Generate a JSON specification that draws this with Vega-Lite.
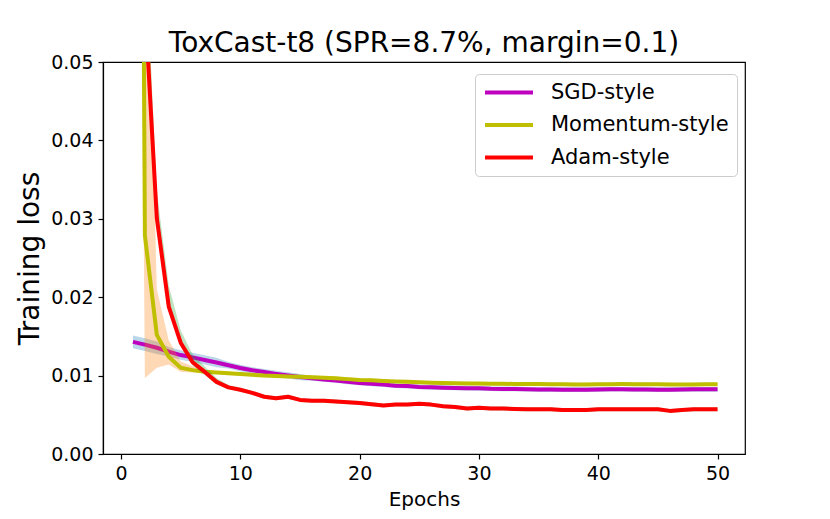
{
  "$schema": "https://vega.github.io/schema/vega-lite/v6.json",
  "width": 642,
  "height": 392,
  "autosize": {"type": "none"},
  "padding": {"left": 103, "top": 62, "right": 85, "bottom": 65},
  "title": {"text": "ToxCast-t8 (SPR=8.7%, margin=0.1)", "fontSize": 28, "fontWeight": "normal", "anchor": "middle", "frame": "group", "baseline": "bottom", "offset": 3, "dy": 36, "color": "black"},
  "config": {
    "font": "DejaVu Sans",
    "view": {"stroke": "black", "strokeWidth": 1.2},
    "axis": {"domainColor": "black", "tickColor": "black", "labelColor": "black", "titleColor": "black", "grid": false, "tickSize": 5, "tickWidth": 1.2, "domainWidth": 1.2, "labelFontSize": 19, "titleFontWeight": "normal", "labelPadding": 5}
  },
  "data": {"values": [
    {"epoch":1,"series":"SGD-style","loss":0.01430,"lo":0.01350,"hi":0.01510},
    {"epoch":2,"series":"SGD-style","loss":0.01395,"lo":0.01315,"hi":0.01475},
    {"epoch":3,"series":"SGD-style","loss":0.01355,"lo":0.01275,"hi":0.01435},
    {"epoch":4,"series":"SGD-style","loss":0.01305,"lo":0.01245,"hi":0.01365},
    {"epoch":5,"series":"SGD-style","loss":0.01262,"lo":0.01202,"hi":0.01322},
    {"epoch":6,"series":"SGD-style","loss":0.01232,"lo":0.01172,"hi":0.01292},
    {"epoch":7,"series":"SGD-style","loss":0.01200,"lo":0.01140,"hi":0.01260},
    {"epoch":8,"series":"SGD-style","loss":0.01168,"lo":0.01108,"hi":0.01228},
    {"epoch":9,"series":"SGD-style","loss":0.01132,"lo":0.01092,"hi":0.01172},
    {"epoch":10,"series":"SGD-style","loss":0.01097,"lo":0.01057,"hi":0.01137},
    {"epoch":11,"series":"SGD-style","loss":0.01068,"lo":0.01028,"hi":0.01108},
    {"epoch":12,"series":"SGD-style","loss":0.01045,"lo":0.01005,"hi":0.01085},
    {"epoch":13,"series":"SGD-style","loss":0.01022,"lo":0.00982,"hi":0.01062},
    {"epoch":14,"series":"SGD-style","loss":0.01002,"lo":0.00962,"hi":0.01042},
    {"epoch":15,"series":"SGD-style","loss":0.00982,"lo":0.00942,"hi":0.01022},
    {"epoch":16,"series":"SGD-style","loss":0.00965,"lo":0.00935,"hi":0.00995},
    {"epoch":17,"series":"SGD-style","loss":0.00950,"lo":0.00920,"hi":0.00980},
    {"epoch":18,"series":"SGD-style","loss":0.00938,"lo":0.00908,"hi":0.00968},
    {"epoch":19,"series":"SGD-style","loss":0.00920,"lo":0.00890,"hi":0.00950},
    {"epoch":20,"series":"SGD-style","loss":0.00906,"lo":0.00876,"hi":0.00936},
    {"epoch":21,"series":"SGD-style","loss":0.00895,"lo":0.00865,"hi":0.00925},
    {"epoch":22,"series":"SGD-style","loss":0.00885,"lo":0.00855,"hi":0.00915},
    {"epoch":23,"series":"SGD-style","loss":0.00872,"lo":0.00842,"hi":0.00902},
    {"epoch":24,"series":"SGD-style","loss":0.00866,"lo":0.00836,"hi":0.00896},
    {"epoch":25,"series":"SGD-style","loss":0.00855,"lo":0.00825,"hi":0.00885},
    {"epoch":26,"series":"SGD-style","loss":0.00850,"lo":0.00820,"hi":0.00880},
    {"epoch":27,"series":"SGD-style","loss":0.00846,"lo":0.00816,"hi":0.00876},
    {"epoch":28,"series":"SGD-style","loss":0.00842,"lo":0.00812,"hi":0.00872},
    {"epoch":29,"series":"SGD-style","loss":0.00840,"lo":0.00810,"hi":0.00870},
    {"epoch":30,"series":"SGD-style","loss":0.00838,"lo":0.00808,"hi":0.00868},
    {"epoch":31,"series":"SGD-style","loss":0.00832,"lo":0.00802,"hi":0.00862},
    {"epoch":32,"series":"SGD-style","loss":0.00830,"lo":0.00800,"hi":0.00860},
    {"epoch":33,"series":"SGD-style","loss":0.00830,"lo":0.00800,"hi":0.00860},
    {"epoch":34,"series":"SGD-style","loss":0.00826,"lo":0.00796,"hi":0.00856},
    {"epoch":35,"series":"SGD-style","loss":0.00822,"lo":0.00792,"hi":0.00852},
    {"epoch":36,"series":"SGD-style","loss":0.00822,"lo":0.00792,"hi":0.00852},
    {"epoch":37,"series":"SGD-style","loss":0.00820,"lo":0.00790,"hi":0.00850},
    {"epoch":38,"series":"SGD-style","loss":0.00820,"lo":0.00790,"hi":0.00850},
    {"epoch":39,"series":"SGD-style","loss":0.00820,"lo":0.00790,"hi":0.00850},
    {"epoch":40,"series":"SGD-style","loss":0.00824,"lo":0.00794,"hi":0.00854},
    {"epoch":41,"series":"SGD-style","loss":0.00826,"lo":0.00796,"hi":0.00856},
    {"epoch":42,"series":"SGD-style","loss":0.00826,"lo":0.00796,"hi":0.00856},
    {"epoch":43,"series":"SGD-style","loss":0.00824,"lo":0.00794,"hi":0.00854},
    {"epoch":44,"series":"SGD-style","loss":0.00824,"lo":0.00794,"hi":0.00854},
    {"epoch":45,"series":"SGD-style","loss":0.00820,"lo":0.00790,"hi":0.00850},
    {"epoch":46,"series":"SGD-style","loss":0.00820,"lo":0.00790,"hi":0.00850},
    {"epoch":47,"series":"SGD-style","loss":0.00824,"lo":0.00794,"hi":0.00854},
    {"epoch":48,"series":"SGD-style","loss":0.00825,"lo":0.00795,"hi":0.00855},
    {"epoch":49,"series":"SGD-style","loss":0.00825,"lo":0.00795,"hi":0.00855},
    {"epoch":50,"series":"SGD-style","loss":0.00825,"lo":0.00795,"hi":0.00855},
    {"epoch":1,"series":"Momentum-style","loss":0.3,"lo":0.2,"hi":0.4},
    {"epoch":2,"series":"Momentum-style","loss":0.0279,"lo":0.0097,"hi":0.08},
    {"epoch":3,"series":"Momentum-style","loss":0.0152,"lo":0.0110,"hi":0.021},
    {"epoch":4,"series":"Momentum-style","loss":0.0124,"lo":0.0114,"hi":0.0145},
    {"epoch":5,"series":"Momentum-style","loss":0.0110,"lo":0.0105,"hi":0.0118},
    {"epoch":6,"series":"Momentum-style","loss":0.0107,"lo":0.0104,"hi":0.0112},
    {"epoch":7,"series":"Momentum-style","loss":0.0105,"lo":0.0103,"hi":0.0107},
    {"epoch":8,"series":"Momentum-style","loss":0.0104,"lo":0.0102,"hi":0.0106},
    {"epoch":9,"series":"Momentum-style","loss":0.0103,"lo":0.0101,"hi":0.0105},
    {"epoch":10,"series":"Momentum-style","loss":0.0102,"lo":0.0100,"hi":0.0104},
    {"epoch":11,"series":"Momentum-style","loss":0.0101,"lo":0.0099,"hi":0.0103},
    {"epoch":12,"series":"Momentum-style","loss":0.0100,"lo":0.0098,"hi":0.0102},
    {"epoch":13,"series":"Momentum-style","loss":0.00995,"lo":0.00975,"hi":0.01015},
    {"epoch":14,"series":"Momentum-style","loss":0.0099,"lo":0.0097,"hi":0.0101},
    {"epoch":15,"series":"Momentum-style","loss":0.00985,"lo":0.00965,"hi":0.01005},
    {"epoch":16,"series":"Momentum-style","loss":0.0098,"lo":0.0096,"hi":0.0100},
    {"epoch":17,"series":"Momentum-style","loss":0.00972,"lo":0.00952,"hi":0.00992},
    {"epoch":18,"series":"Momentum-style","loss":0.00965,"lo":0.00945,"hi":0.00985},
    {"epoch":19,"series":"Momentum-style","loss":0.00955,"lo":0.00935,"hi":0.00975},
    {"epoch":20,"series":"Momentum-style","loss":0.00945,"lo":0.00925,"hi":0.00965},
    {"epoch":21,"series":"Momentum-style","loss":0.0094,"lo":0.0092,"hi":0.0096},
    {"epoch":22,"series":"Momentum-style","loss":0.00932,"lo":0.00912,"hi":0.00952},
    {"epoch":23,"series":"Momentum-style","loss":0.00925,"lo":0.00905,"hi":0.00945},
    {"epoch":24,"series":"Momentum-style","loss":0.0092,"lo":0.0090,"hi":0.0094},
    {"epoch":25,"series":"Momentum-style","loss":0.00915,"lo":0.00895,"hi":0.00935},
    {"epoch":26,"series":"Momentum-style","loss":0.0091,"lo":0.0089,"hi":0.0093},
    {"epoch":27,"series":"Momentum-style","loss":0.00905,"lo":0.00885,"hi":0.00925},
    {"epoch":28,"series":"Momentum-style","loss":0.00902,"lo":0.00882,"hi":0.00922},
    {"epoch":29,"series":"Momentum-style","loss":0.0090,"lo":0.0088,"hi":0.0092},
    {"epoch":30,"series":"Momentum-style","loss":0.00898,"lo":0.00878,"hi":0.00918},
    {"epoch":31,"series":"Momentum-style","loss":0.00896,"lo":0.00876,"hi":0.00916},
    {"epoch":32,"series":"Momentum-style","loss":0.00895,"lo":0.00875,"hi":0.00915},
    {"epoch":33,"series":"Momentum-style","loss":0.00894,"lo":0.00874,"hi":0.00914},
    {"epoch":34,"series":"Momentum-style","loss":0.00893,"lo":0.00873,"hi":0.00913},
    {"epoch":35,"series":"Momentum-style","loss":0.00892,"lo":0.00872,"hi":0.00912},
    {"epoch":36,"series":"Momentum-style","loss":0.0089,"lo":0.0087,"hi":0.0091},
    {"epoch":37,"series":"Momentum-style","loss":0.0089,"lo":0.0087,"hi":0.0091},
    {"epoch":38,"series":"Momentum-style","loss":0.00888,"lo":0.00868,"hi":0.00908},
    {"epoch":39,"series":"Momentum-style","loss":0.00888,"lo":0.00868,"hi":0.00908},
    {"epoch":40,"series":"Momentum-style","loss":0.0089,"lo":0.0087,"hi":0.0091},
    {"epoch":41,"series":"Momentum-style","loss":0.0089,"lo":0.0087,"hi":0.0091},
    {"epoch":42,"series":"Momentum-style","loss":0.00892,"lo":0.00872,"hi":0.00912},
    {"epoch":43,"series":"Momentum-style","loss":0.00891,"lo":0.00871,"hi":0.00911},
    {"epoch":44,"series":"Momentum-style","loss":0.0089,"lo":0.0087,"hi":0.0091},
    {"epoch":45,"series":"Momentum-style","loss":0.0089,"lo":0.0087,"hi":0.0091},
    {"epoch":46,"series":"Momentum-style","loss":0.00888,"lo":0.00868,"hi":0.00908},
    {"epoch":47,"series":"Momentum-style","loss":0.00887,"lo":0.00867,"hi":0.00907},
    {"epoch":48,"series":"Momentum-style","loss":0.00888,"lo":0.00868,"hi":0.00908},
    {"epoch":49,"series":"Momentum-style","loss":0.0089,"lo":0.0087,"hi":0.0091},
    {"epoch":50,"series":"Momentum-style","loss":0.0089,"lo":0.0087,"hi":0.0091},
    {"epoch":1,"series":"Adam-style","loss":0.5,"lo":0.45,"hi":0.55},
    {"epoch":2,"series":"Adam-style","loss":0.0575,"lo":0.054,"hi":0.066},
    {"epoch":3,"series":"Adam-style","loss":0.0301,"lo":0.0290,"hi":0.0335},
    {"epoch":4,"series":"Adam-style","loss":0.0188,"lo":0.0182,"hi":0.0215},
    {"epoch":5,"series":"Adam-style","loss":0.0142,"lo":0.0137,"hi":0.0158},
    {"epoch":6,"series":"Adam-style","loss":0.0117,"lo":0.0113,"hi":0.0127},
    {"epoch":7,"series":"Adam-style","loss":0.0105,"lo":0.0101,"hi":0.0112},
    {"epoch":8,"series":"Adam-style","loss":0.0092,"lo":0.00890,"hi":0.0097},
    {"epoch":9,"series":"Adam-style","loss":0.0085,"lo":0.00825,"hi":0.0088},
    {"epoch":10,"series":"Adam-style","loss":0.0082,"lo":0.00795,"hi":0.00845},
    {"epoch":11,"series":"Adam-style","loss":0.0078,"lo":0.00755,"hi":0.00805},
    {"epoch":12,"series":"Adam-style","loss":0.0073,"lo":0.00705,"hi":0.00755},
    {"epoch":13,"series":"Adam-style","loss":0.0071,"lo":0.00685,"hi":0.00735},
    {"epoch":14,"series":"Adam-style","loss":0.0073,"lo":0.00705,"hi":0.00755},
    {"epoch":15,"series":"Adam-style","loss":0.0069,"lo":0.00665,"hi":0.00715},
    {"epoch":16,"series":"Adam-style","loss":0.0068,"lo":0.00655,"hi":0.00705},
    {"epoch":17,"series":"Adam-style","loss":0.0068,"lo":0.00655,"hi":0.00705},
    {"epoch":18,"series":"Adam-style","loss":0.0067,"lo":0.00645,"hi":0.00695},
    {"epoch":19,"series":"Adam-style","loss":0.0066,"lo":0.00635,"hi":0.00685},
    {"epoch":20,"series":"Adam-style","loss":0.0065,"lo":0.00625,"hi":0.00675},
    {"epoch":21,"series":"Adam-style","loss":0.00635,"lo":0.0061,"hi":0.0066},
    {"epoch":22,"series":"Adam-style","loss":0.0062,"lo":0.00595,"hi":0.00645},
    {"epoch":23,"series":"Adam-style","loss":0.0063,"lo":0.00605,"hi":0.00655},
    {"epoch":24,"series":"Adam-style","loss":0.0063,"lo":0.00605,"hi":0.00655},
    {"epoch":25,"series":"Adam-style","loss":0.0064,"lo":0.00615,"hi":0.00665},
    {"epoch":26,"series":"Adam-style","loss":0.0063,"lo":0.00605,"hi":0.00655},
    {"epoch":27,"series":"Adam-style","loss":0.0061,"lo":0.00585,"hi":0.00635},
    {"epoch":28,"series":"Adam-style","loss":0.0060,"lo":0.00575,"hi":0.00625},
    {"epoch":29,"series":"Adam-style","loss":0.0058,"lo":0.00555,"hi":0.00605},
    {"epoch":30,"series":"Adam-style","loss":0.0059,"lo":0.00565,"hi":0.00615},
    {"epoch":31,"series":"Adam-style","loss":0.0058,"lo":0.00555,"hi":0.00605},
    {"epoch":32,"series":"Adam-style","loss":0.0058,"lo":0.00555,"hi":0.00605},
    {"epoch":33,"series":"Adam-style","loss":0.00575,"lo":0.0055,"hi":0.006},
    {"epoch":34,"series":"Adam-style","loss":0.0057,"lo":0.00545,"hi":0.00595},
    {"epoch":35,"series":"Adam-style","loss":0.0057,"lo":0.00545,"hi":0.00595},
    {"epoch":36,"series":"Adam-style","loss":0.0057,"lo":0.00545,"hi":0.00595},
    {"epoch":37,"series":"Adam-style","loss":0.0056,"lo":0.00535,"hi":0.00585},
    {"epoch":38,"series":"Adam-style","loss":0.0056,"lo":0.00535,"hi":0.00585},
    {"epoch":39,"series":"Adam-style","loss":0.0056,"lo":0.00535,"hi":0.00585},
    {"epoch":40,"series":"Adam-style","loss":0.0057,"lo":0.00545,"hi":0.00595},
    {"epoch":41,"series":"Adam-style","loss":0.0057,"lo":0.00545,"hi":0.00595},
    {"epoch":42,"series":"Adam-style","loss":0.0057,"lo":0.00545,"hi":0.00595},
    {"epoch":43,"series":"Adam-style","loss":0.0057,"lo":0.00545,"hi":0.00595},
    {"epoch":44,"series":"Adam-style","loss":0.0057,"lo":0.00545,"hi":0.00595},
    {"epoch":45,"series":"Adam-style","loss":0.0057,"lo":0.00545,"hi":0.00595},
    {"epoch":46,"series":"Adam-style","loss":0.0055,"lo":0.00525,"hi":0.00575},
    {"epoch":47,"series":"Adam-style","loss":0.0056,"lo":0.00535,"hi":0.00585},
    {"epoch":48,"series":"Adam-style","loss":0.0057,"lo":0.00545,"hi":0.00595},
    {"epoch":49,"series":"Adam-style","loss":0.0057,"lo":0.00545,"hi":0.00595},
    {"epoch":50,"series":"Adam-style","loss":0.0057,"lo":0.00545,"hi":0.00595}
  ]},
  "encoding": {
    "x": {"field": "epoch", "type": "quantitative",
      "scale": {"domain": [-1.51, 52.3], "nice": false, "zero": false},
      "axis": {"title": "Epochs", "values": [0, 10, 20, 30, 40, 50], "titleFontSize": 20, "titleY": 51, "titleBaseline": "alphabetic", "labelFlush": false}}
  },
  "layer": [
    {"transform": [{"filter": "datum.series === 'SGD-style'"}],
     "mark": {"type": "area", "clip": true, "color": "#1f77b4", "opacity": 0.3},
     "encoding": {
       "y": {"field": "lo", "type": "quantitative", "scale": {"domain": [0, 0.05], "nice": false, "zero": false},
         "axis": {"title": "Training loss", "values": [0, 0.01, 0.02, 0.03, 0.04, 0.05], "format": ".2f", "titleFontSize": 28, "titleX": -65, "titleY": 196, "titleAngle": -90, "titleBaseline": "alphabetic", "titleAlign": "center"}},
       "y2": {"field": "hi"}}},
    {"transform": [{"filter": "datum.series === 'SGD-style'"}],
     "mark": {"type": "line", "clip": true, "strokeWidth": 4, "strokeJoin": "round"},
     "encoding": {
       "y": {"field": "loss", "type": "quantitative", "scale": {"domain": [0, 0.05], "nice": false, "zero": false},
         "axis": {"title": "Training loss", "values": [0, 0.01, 0.02, 0.03, 0.04, 0.05], "format": ".2f", "titleFontSize": 28, "titleX": -65, "titleY": 196, "titleAngle": -90, "titleBaseline": "alphabetic", "titleAlign": "center"}},
       "color": {"field": "series", "type": "nominal",
         "scale": {"domain": ["SGD-style", "Momentum-style", "Adam-style"], "range": ["#bf00bf", "#bfbf00", "#ff0000"]},
         "legend": {"title": null, "orient": "none", "legendX": 372, "legendY": 12, "symbolType": "stroke", "symbolStrokeWidth": 4, "symbolSize": 2304, "clipHeight": 21, "labelFontSize": 21, "labelOffset": 16, "rowPadding": 10.5, "padding": 8, "strokeColor": "#cccccc", "fillColor": "white", "cornerRadius": 4, "labelLimit": 400, "labelColor": "black"}}}},
    {"transform": [{"filter": "datum.series === 'Momentum-style'"}],
     "mark": {"type": "area", "clip": true, "color": "#ff7f0e", "opacity": 0.3},
     "encoding": {
       "y": {"field": "lo", "type": "quantitative", "scale": {"domain": [0, 0.05], "nice": false, "zero": false},
         "axis": {"title": "Training loss", "values": [0, 0.01, 0.02, 0.03, 0.04, 0.05], "format": ".2f", "titleFontSize": 28, "titleX": -65, "titleY": 196, "titleAngle": -90, "titleBaseline": "alphabetic", "titleAlign": "center"}},
       "y2": {"field": "hi"}}},
    {"transform": [{"filter": "datum.series === 'Momentum-style'"}],
     "mark": {"type": "line", "clip": true, "strokeWidth": 4, "strokeJoin": "round"},
     "encoding": {
       "y": {"field": "loss", "type": "quantitative", "scale": {"domain": [0, 0.05], "nice": false, "zero": false},
         "axis": {"title": "Training loss", "values": [0, 0.01, 0.02, 0.03, 0.04, 0.05], "format": ".2f", "titleFontSize": 28, "titleX": -65, "titleY": 196, "titleAngle": -90, "titleBaseline": "alphabetic", "titleAlign": "center"}},
       "color": {"field": "series", "type": "nominal",
         "scale": {"domain": ["SGD-style", "Momentum-style", "Adam-style"], "range": ["#bf00bf", "#bfbf00", "#ff0000"]}}}},
    {"transform": [{"filter": "datum.series === 'Adam-style'"}],
     "mark": {"type": "area", "clip": true, "color": "#2ca02c", "opacity": 0.3},
     "encoding": {
       "y": {"field": "lo", "type": "quantitative", "scale": {"domain": [0, 0.05], "nice": false, "zero": false},
         "axis": {"title": "Training loss", "values": [0, 0.01, 0.02, 0.03, 0.04, 0.05], "format": ".2f", "titleFontSize": 28, "titleX": -65, "titleY": 196, "titleAngle": -90, "titleBaseline": "alphabetic", "titleAlign": "center"}},
       "y2": {"field": "hi"}}},
    {"transform": [{"filter": "datum.series === 'Adam-style'"}],
     "mark": {"type": "line", "clip": true, "strokeWidth": 4, "strokeJoin": "round"},
     "encoding": {
       "y": {"field": "loss", "type": "quantitative", "scale": {"domain": [0, 0.05], "nice": false, "zero": false},
         "axis": {"title": "Training loss", "values": [0, 0.01, 0.02, 0.03, 0.04, 0.05], "format": ".2f", "titleFontSize": 28, "titleX": -65, "titleY": 196, "titleAngle": -90, "titleBaseline": "alphabetic", "titleAlign": "center"}},
       "color": {"field": "series", "type": "nominal",
         "scale": {"domain": ["SGD-style", "Momentum-style", "Adam-style"], "range": ["#bf00bf", "#bfbf00", "#ff0000"]}}}}
  ]
}
